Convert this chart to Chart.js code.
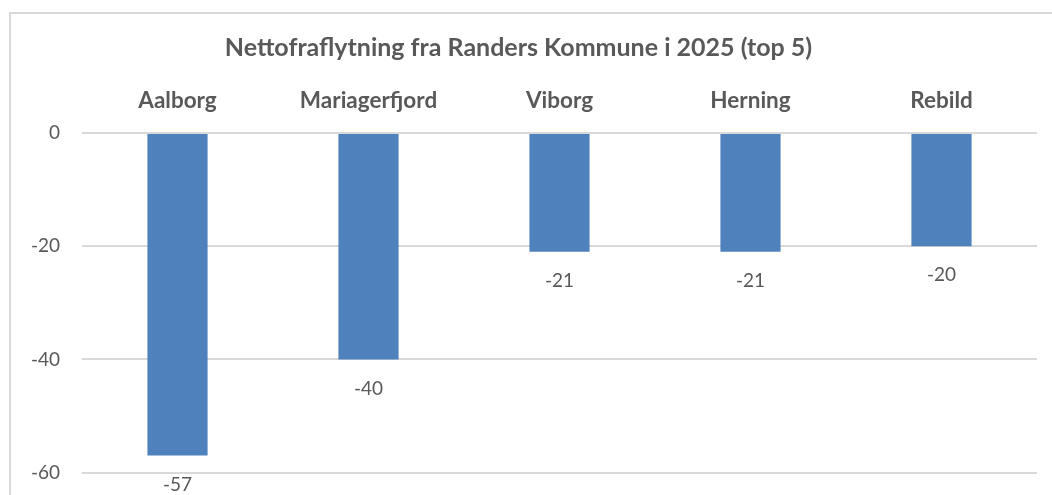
<!DOCTYPE html>
<html>
<head>
<meta charset="utf-8">
<script src="https://cdn.jsdelivr.net/npm/chart.js@4.4.1/dist/chart.umd.min.js"></script>
<style>
  html, body { margin: 0; padding: 0; background: #fff; }
  #wrap { position: relative; width: 1052px; height: 495px; overflow: hidden; }
  #frame { position: absolute; left: 9px; top: 12px; width: 1100px; height: 600px;
           border-left: 2px solid #d9d9d9; border-top: 2px solid #d9d9d9; }
  #c { position: absolute; left: 0; top: 0; }
</style>
</head>
<body>
<div id="wrap">
  <div id="frame"></div>
  <!-- the chart runs a bit past the window bottom, as in the cropped original -->
  <canvas id="c" width="1052" height="506"></canvas>
</div>
<script>
var kommuner = ['Aalborg', 'Mariagerfjord', 'Viborg', 'Herning', 'Rebild'];
var netto = [-57, -40, -21, -21, -20];
var yTicks = [0, -20, -40, -60];
var titel = 'Nettofraflytning fra Randers Kommune i 2025 (top 5)';

var tekstFarve = '#595959';
var font = 'Lato, "Open Sans", sans-serif';

// etiketter under søjlerne
var labelPlugin = {
    id: 'barLabels',
    afterDatasetsDraw: function(chart) {
        var ctx = chart.ctx;
        var meta = chart.getDatasetMeta(0);
        ctx.save();
        ctx.fillStyle = tekstFarve;
        ctx.font = '19px ' + font;
        ctx.textAlign = 'center';
        ctx.textBaseline = 'middle';
        meta.data.forEach(function(bar, i) {
            ctx.fillText(String(netto[i]), bar.x, bar.y + 29);
        });
        ctx.restore();
    }
};

var chart = new Chart(document.getElementById('c'), {
    type: 'bar',
    data: {
        labels: kommuner,
        datasets: [{
            data: netto,
            backgroundColor: '#4f81bd',
            borderWidth: 0,
            barPercentage: 0.63,
            categoryPercentage: 0.5
        }]
    },
    options: {
        responsive: false,
        animation: false,
        layout: { padding: { left: 0, right: 15, top: 0, bottom: 0 } },
        plugins: {
            legend: { display: false },
            tooltip: { enabled: false },
            title: {
                display: true,
                text: titel,
                color: tekstFarve,
                font: { family: font, size: 25, weight: 'bold' },
                padding: { top: 33, bottom: 10 }
            }
        },
        scales: {
            x: {
                position: 'top',
                grid: { display: false },
                border: { display: false },
                ticks: {
                    color: tekstFarve,
                    font: { family: font, size: 22.5, weight: 'bold' },
                    padding: 11,
                    maxRotation: 0
                },
                afterFit: function(s) { s.height = 133 - 73; }
            },
            y: {
                min: -60,
                max: 0,
                afterBuildTicks: function(s) {
                    s.ticks = yTicks.map(function(v) { return { value: v }; });
                },
                grid: { color: '#d9d9d9', lineWidth: 2, drawTicks: false },
                border: { display: false },
                ticks: {
                    color: tekstFarve,
                    font: { family: font, size: 19 },
                    padding: 22
                },
                afterFit: function(s) { s.width = 82; }
            }
        }
    },
    plugins: [labelPlugin]
});
</script>
</body>
</html>
